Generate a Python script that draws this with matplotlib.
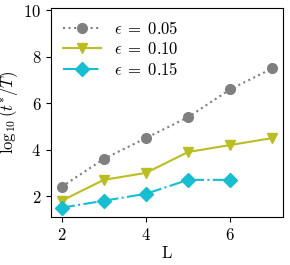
import matplotlib
matplotlib.use("Agg")
import matplotlib.pyplot as plt

plt.rcParams["font.family"] = "serif"
plt.rcParams["font.serif"] = ["cmr10", "DejaVu Serif"]
plt.rcParams["mathtext.fontset"] = "cm"
plt.rcParams["axes.formatter.use_mathtext"] = True
plt.rcParams["font.size"] = 12

L_vals = [2, 3, 4, 5, 6, 7]
t_eps005 = [2.4, 3.6, 4.5, 5.4, 6.6, 7.5]
t_eps010 = [1.8, 2.7, 3.0, 3.9, 4.2, 4.5]
L_eps015 = [2, 3, 4, 5, 6]
t_eps015 = [1.5, 1.8, 2.1, 2.7, 2.7]

fig = plt.figure(figsize=(2.9, 2.65), dpi=100)
ax = fig.add_axes([0.176, 0.181, 0.8, 0.789])

ax.plot(L_vals, t_eps005, ":", marker="o", color="#7f7f7f", lw=1.5, ms=7,
        label=r"$\epsilon\;=\;0.05$")
ax.plot(L_vals, t_eps010, "-", marker="v", color="#bcbd22", lw=1.5, ms=7,
        label=r"$\epsilon\;=\;0.10$")
ax.plot(L_eps015, t_eps015, "-.", marker="D", color="#17becf", lw=1.5, ms=7,
        label=r"$\epsilon\;=\;0.15$")

ax.set_xlim(1.75, 7.25)
ax.set_ylim(1.1, 10.1)
ax.set_xticks([2, 4, 6])
ax.set_yticks([2, 4, 6, 8, 10])
ax.set_xlabel("L", labelpad=2)
ax.set_ylabel(r"$\log_{10}(t^{*}/T)$")
ax.yaxis.set_label_coords(-0.135, 0.5)
ax.legend(loc="upper left", frameon=False, fontsize=12, labelspacing=0.25,
          handlelength=2.3, borderaxespad=0.3)

fig.savefig("out.png", dpi=100)
